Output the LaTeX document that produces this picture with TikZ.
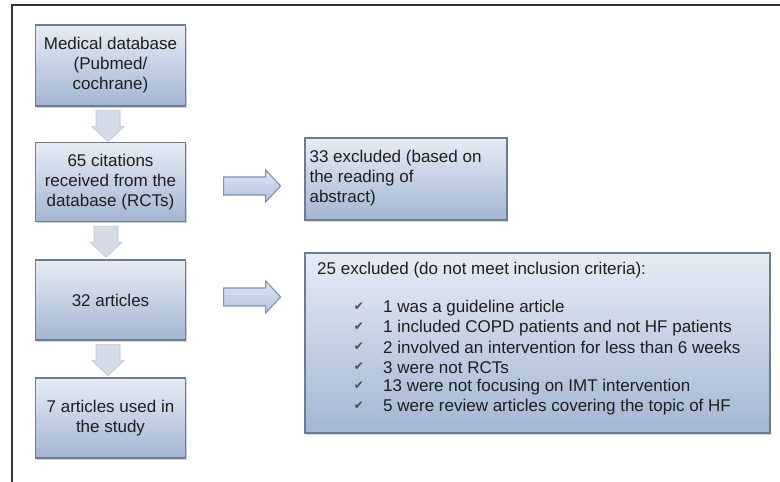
\documentclass[tikz,border=0pt]{standalone}
\usepackage{fontspec}
\setmainfont{Liberation Sans}
\newfontfamily\symfont{DejaVu Sans}
\usetikzlibrary{shadows,calc}
\definecolor{boxtop}{HTML}{E6ECF4}
\definecolor{boxbot}{HTML}{A3B6D3}
\definecolor{boxline}{HTML}{6E7C90}
\definecolor{txt}{HTML}{1E1E1E}
\definecolor{arrfill}{HTML}{D5DCE8}
\definecolor{arrline}{HTML}{BAC4D3}
\definecolor{rarrtop}{HTML}{DDE6F3}
\definecolor{rarrbot}{HTML}{B0C2DE}
\definecolor{rarrline}{HTML}{7F91AC}
\begin{document}
\begin{tikzpicture}[x=1pt,y=-1pt,
  fbox/.style={draw=boxline,line width=1.3pt,top color=boxtop,bottom color=boxbot,
    drop shadow={opacity=0.35,shadow xshift=1.2pt,shadow yshift=-1.8pt},
    inner sep=0pt,text=txt,font=\fontsize{17}{20}\selectfont},
  downarr/.style={fill=arrfill,draw=arrline,line width=0.6pt,line join=miter},
  rightarr/.style={top color=rarrtop,bottom color=rarrbot,draw=rarrline,line width=1.1pt,line join=miter},
  txtline/.style={text=txt,font=\fontsize{17}{20}\selectfont,inner sep=0pt,anchor=west},
  chk/.style={text=txt!80,font=\symfont\fontsize{12}{14}\selectfont,inner sep=0pt}
]
\useasboundingbox (0,0) rectangle (780,482);
\fill[white] (0,0) rectangle (780,482);
% frame
\coordinate (ftl) at (12,5);
\coordinate (ftr) at (780,5);
\coordinate (fbl) at (12,482);
\draw[line width=1.3pt,black!80] (ftr) -- (ftl) -- (fbl);

% left column boxes
\node[fbox,minimum width=150pt,minimum height=81pt,align=center] (b1) at (110.5,65.5)
  {Medical database\\(Pubmed/\\cochrane)};
\node[fbox,minimum width=150pt,minimum height=79pt,align=center] (b2) at (110.5,182)
  {65 citations\\received from the\\database (RCTs)};
\node[fbox,minimum width=150pt,minimum height=80pt,align=center] (b4) at (110.5,300)
  {32 articles};
\node[fbox,minimum width=150pt,minimum height=80pt,align=center] (b5) at (110.5,418)
  {7 articles used in\\the study};

% right column boxes
\node[fbox,minimum width=202pt,minimum height=82pt] (b3) at (406,179) {};
\node[txtline,align=left,anchor=west] (b3t) at ($(b3.west)+(5,-1)$)
  {33 excluded (based on\\the reading of\\abstract)};
\node[fbox,minimum width=465pt,minimum height=180pt] (b6) at (537.5,343) {};
\node[txtline] (t6) at (317,270) {25 excluded (do not meet inclusion criteria):};
\foreach \i/\t in {0/1 was a guideline article,
                   1/1 included COPD patients and not HF patients,
                   2/2 involved an intervention for less than 6 weeks,
                   3/3 were not RCTs,
                   4/13 were not focusing on IMT intervention,
                   5/5 were review articles covering the topic of HF}{
  \node[chk] (c\i) at (359,{307+19.8*\i}) {✔};
  \node[txtline] (l\i) at (383,{308+19.8*\i}) {\t};
}

% down arrows (block arrows below each left box)
\foreach \a/\dx in {b1/-2.5,b2/-4.5,b4/-2.5}{
  \draw[downarr] ($(\a.south)+(\dx,4)$) ++(-12,0) -- ++(0,16) -- ++(-4,0)
    -- ++(16,15) -- ++(16,-15) -- ++(-4,0) -- ++(0,-16) -- cycle;
}

% right arrows
\foreach \a/\dy in {b2/4,b4/-3}{
  \draw[rightarr] ($(\a.east)+(37.5,\dy)$) ++(0,-9) -- ++(42,0) -- ++(0,-7)
    -- ++(15,16) -- ++(-15,16) -- ++(0,-7) -- ++(-42,0) -- cycle;
}
\end{tikzpicture}
\end{document}
